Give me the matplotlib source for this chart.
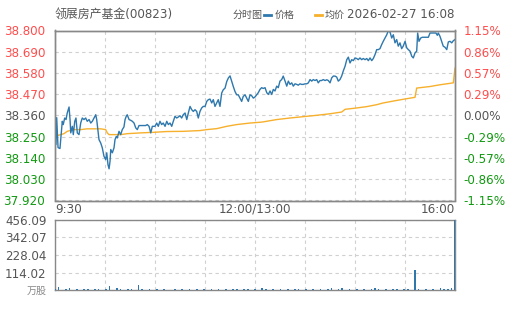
import matplotlib
matplotlib.use('Agg')
import matplotlib.pyplot as plt
from matplotlib.lines import Line2D
import numpy as np

plt.rcParams['font.family'] = ['DejaVu Sans', 'Noto Sans CJK SC']

# ---- data ----
name = '领展房产基金(00823)'
chart_kind = '分时图'
legend_price = '价格'
legend_avg = '均价'
stamp = '2026-02-27 16:08'
prev_close = 38.360
price_ticks = [37.920, 38.030, 38.140, 38.250, 38.360, 38.470, 38.580, 38.690, 38.800]
pct_labels = ['-1.15%', '-0.86%', '-0.57%', '-0.29%', '0.00%', '0.29%', '0.57%', '0.86%', '1.15%']
time_labels = ['9:30', '12:00/13:00', '16:00']
vol_ticks = [0, 114.02, 228.04, 342.07, 456.09]
vol_unit = '万股'

# minutes since open (0..330) and price
price_min = [0, 0.8, 1.4, 2.5, 4.1, 5.2, 6.0, 6.8, 8.0, 9.1, 10.1, 11.6, 12.4, 13.0, 14.3, 15.1,
             16.3, 17.3, 18.4, 19.8, 21.2, 22.5, 23.9, 25.3, 26.6, 28.1, 29.5, 30.8, 32.2, 33.6,
             34.4, 35.5, 36.3, 37.7, 39.0, 40.4, 41.8, 42.7, 43.7, 44.6, 45.4, 46.0, 47.3, 48.7,
             49.5, 50.6, 51.4, 52.8, 54.2, 55.5, 56.9, 57.8, 58.8, 59.6, 61.1, 62.5, 63.8, 65.2,
             66.6, 67.9, 69.3, 72.0, 74.8, 76.1, 77.6, 79.0, 80.3, 81.7, 82.5, 83.9, 85.2, 86.6,
             88.0, 89.3, 90.8, 92.2, 93.5, 94.9, 96.3, 97.6, 99.0, 100.4, 101.7, 103.1, 104.5,
             105.8, 107.3, 108.7, 110.0, 111.4, 112.8, 114.1, 115.5, 116.9, 118.2, 119.6, 121.0,
             122.3, 123.8, 125.2, 126.5, 127.9, 129.3, 130.6, 132.0, 133.4, 134.7, 136.1, 137.5,
             138.8, 140.3, 141.7, 143.0, 144.4, 145.8, 147.1, 148.5, 149.9, 151.2, 152.6, 154.0,
             155.3, 156.8, 158.2, 159.5, 160.9, 162.3, 163.6, 165.0, 166.4, 167.7, 169.1, 170.5,
             171.8, 173.3, 174.7, 176.0, 177.4, 178.8, 180.1, 181.5, 182.9, 184.2, 185.6, 187.0,
             188.3, 189.8, 191.2, 192.5, 193.9, 195.3, 196.6, 198.0, 199.4, 200.7, 202.1, 203.5,
             204.8, 206.3, 207.7, 209.0, 210.4, 211.8, 213.1, 214.5, 215.9, 217.2, 218.6, 220.0,
             221.3, 222.8, 224.2, 225.5, 226.9, 228.3, 229.6, 231.0, 232.4, 233.7, 235.1, 236.5,
             237.8, 239.3, 240.7, 242.0, 243.4, 244.8, 246.1, 247.5, 248.9, 250.2, 251.6, 253.0,
             254.3, 255.8, 257.2, 258.5, 259.9, 261.3, 262.6, 264.0, 265.4, 266.7, 268.1, 269.5,
             270.8, 272.3, 273.7, 275.0, 276.4, 277.8, 279.1, 280.5, 281.9, 283.2, 284.6, 286.0,
             287.3, 288.8, 290.2, 291.5, 292.9, 294.3, 295.6, 297.0, 298.4, 299.2, 300.3, 301.7,
             303.0, 305.3, 308.0, 309.4, 312.1, 314.3, 315.4, 316.2, 317.6, 319.0, 320.3, 321.8,
             323.2, 324.5, 325.9, 327.3, 328.6, 330.0]
price = [38.349, 38.210, 38.349, 38.194, 38.189, 38.270, 38.330, 38.313, 38.347, 38.339, 38.373,
         38.404, 38.339, 38.270, 38.304, 38.261, 38.330, 38.347, 38.270, 38.261, 38.321, 38.347,
         38.339, 38.347, 38.330, 38.339, 38.321, 38.330, 38.347, 38.364, 38.339, 38.278, 38.235,
         38.218, 38.193, 38.149, 38.132, 38.167, 38.106, 38.084, 38.123, 38.184, 38.167, 38.193,
         38.235, 38.252, 38.244, 38.278, 38.261, 38.287, 38.301, 38.339, 38.356, 38.364, 38.339,
         38.335, 38.330, 38.321, 38.296, 38.287, 38.308, 38.308, 38.308, 38.313, 38.304, 38.270,
         38.304, 38.304, 38.304, 38.321, 38.304, 38.330, 38.313, 38.321, 38.304, 38.330, 38.313,
         38.321, 38.304, 38.330, 38.356, 38.347, 38.352, 38.359, 38.347, 38.364, 38.373, 38.339,
         38.373, 38.407, 38.390, 38.381, 38.390, 38.381, 38.347, 38.381, 38.399, 38.407, 38.407,
         38.433, 38.442, 38.445, 38.425, 38.442, 38.407, 38.425, 38.442, 38.407, 38.476, 38.493,
         38.502, 38.536, 38.554, 38.565, 38.536, 38.510, 38.484, 38.467, 38.467, 38.450, 38.433,
         38.459, 38.467, 38.450, 38.433, 38.467, 38.462, 38.450, 38.456, 38.467, 38.478, 38.495,
         38.504, 38.500, 38.504, 38.478, 38.469, 38.487, 38.469, 38.495, 38.487, 38.512, 38.504,
         38.538, 38.546, 38.564, 38.538, 38.512, 38.538, 38.521, 38.529, 38.512, 38.524, 38.521,
         38.517, 38.524, 38.521, 38.521, 38.524, 38.524, 38.529, 38.546, 38.538, 38.546, 38.541,
         38.546, 38.529, 38.541, 38.541, 38.546, 38.541, 38.545, 38.541, 38.529, 38.555, 38.564,
         38.564, 38.559, 38.538, 38.546, 38.564, 38.590, 38.615, 38.649, 38.662, 38.632, 38.649,
         38.644, 38.658, 38.655, 38.649, 38.658, 38.649, 38.655, 38.649, 38.655, 38.644, 38.658,
         38.644, 38.655, 38.675, 38.701, 38.701, 38.706, 38.727, 38.744, 38.761, 38.778, 38.799,
         38.792, 38.761, 38.778, 38.736, 38.753, 38.719, 38.736, 38.706, 38.719, 38.744, 38.710,
         38.701, 38.693, 38.667, 38.658, 38.684, 38.693, 38.787, 38.744, 38.761, 38.765, 38.765,
         38.765, 38.787, 38.787, 38.787, 38.775, 38.787, 38.770, 38.744, 38.719, 38.713, 38.701,
         38.741, 38.744, 38.736, 38.747, 38.753]

avg_min = [0.6, 1.9, 4.7, 7.4, 10.1, 13.0, 15.7, 21.2, 26.6, 37.7, 41.8, 43.1, 44.6, 48.7, 54.2,
           59.6, 65.2, 70.7, 81.7, 92.2, 105.8, 119.6, 125.2, 133.4, 141.7, 149.9, 160.9, 169.1,
           171.8, 182.9, 193.9, 204.8, 215.9, 226.9, 236.5, 239.3, 248.9, 257.2, 265.4, 270.8,
           281.9, 290.2, 297.0, 298.4, 309.4, 317.6, 328.6, 330.0]
avg_price = [38.270, 38.256, 38.261, 38.266, 38.278, 38.283, 38.287, 38.287, 38.291, 38.291,
             38.287, 38.270, 38.261, 38.261, 38.261, 38.266, 38.268, 38.270, 38.273, 38.277,
             38.278, 38.282, 38.287, 38.292, 38.304, 38.313, 38.321, 38.325, 38.327, 38.339,
             38.347, 38.354, 38.361, 38.369, 38.378, 38.392, 38.399, 38.406, 38.416, 38.425,
             38.438, 38.447, 38.454, 38.502, 38.510, 38.519, 38.529, 38.605]

# volume in 3-minute buckets (0, 3, ..., 330)
volume = [4, 22, 3, 4, 10, 3, 4, 3, 4, 8, 3, 8, 4, 3, 4, 26, 3, 12, 4, 3,
          8, 4, 3, 33, 4, 3, 4, 3, 4, 3, 4, 3, 3, 4, 3, 4, 3, 4, 3, 4,
          3, 4, 3, 4, 3, 4, 3, 4, 3, 4, 8, 3, 4, 8, 3, 4, 3, 12, 4, 3,
          4, 3, 4, 3, 4, 3, 8, 4, 3, 4, 3, 4, 3, 4, 3, 4, 12, 3, 4, 12,
          3, 4, 3, 4, 3, 4, 3, 4, 10, 8, 3, 4, 3, 8, 4, 3, 8, 4, 3, 128,
          4, 3, 4, 3, 4, 3, 14, 4, 8, 16, 456.09]

# ---- figure ----
W, H = 505, 310
fig = plt.figure(figsize=(W / 100, H / 100), dpi=100)

red, green, grey = '#ff4d4d', '#119911', '#555555'
blue, orange = '#2e78ad', '#f7b02c'
fs = 8.6
fs_cjk = 7.2


def box(x0, y0, x1, y1):
    return [x0 / W, 1 - y1 / H, (x1 - x0) / W, (y1 - y0) / H]


def style_frame(ax):
    for s in ax.spines.values():
        s.set_color('#888888')
        s.set_linewidth(1.0)


def tick_colour(v):
    if v > prev_close + 1e-9:
        return red
    if v < prev_close - 1e-9:
        return green
    return grey


# main price panel
ax = fig.add_axes(box(55, 30.5, 455, 200.5))
ax.plot(price_min, price, color=blue, lw=1.0, zorder=3)
ax.plot(avg_min, avg_price, color=orange, lw=1.0, zorder=2)
ax.set_xlim(0, 330)
ax.set_ylim(price_ticks[0], price_ticks[-1])
ax.set_yticks(price_ticks)
ax.set_yticklabels([f'{v:.3f}' for v in price_ticks])
xt = np.linspace(0, 330, 9)
ax.set_xticks(xt)
ax.set_xticklabels([time_labels[0], '', '', '', time_labels[1], '', '', '', time_labels[2]])
ax.grid(True, color='#d0d0d0', ls=(0, (3, 3)), lw=0.8)
ax.tick_params(length=0, labelsize=fs, pad=7)
ax.tick_params(axis='x', pad=1.5, colors=grey)
xl = ax.get_xticklabels()
xl[0].set_ha('left')
xl[-1].set_ha('right')
style_frame(ax)
for lab, v in zip(ax.get_yticklabels(), price_ticks):
    lab.set_color(tick_colour(v))

axr = ax.twinx()
axr.set_ylim(ax.get_ylim())
axr.set_yticks(price_ticks)
axr.set_yticklabels(pct_labels)
axr.tick_params(length=0, labelsize=fs, pad=6)
style_frame(axr)
for lab, v in zip(axr.get_yticklabels(), price_ticks):
    lab.set_color(tick_colour(v))

# volume panel
axv = fig.add_axes(box(55, 220, 455, 290))
vol_min = np.arange(len(volume)) * 3
axv.bar(vol_min, volume, width=1.3, color=blue, zorder=3)
axv.set_xlim(0, 330)
axv.set_ylim(0, vol_ticks[-1])
axv.set_yticks(vol_ticks)
axv.set_yticklabels([vol_unit] + [f'{v:.2f}' for v in vol_ticks[1:]])
axv.set_xticks(xt)
axv.set_xticklabels([])
axv.grid(True, color='#d0d0d0', ls=(0, (3, 3)), lw=0.8)
axv.tick_params(length=0, labelsize=fs, pad=6, colors=grey)
axv.get_yticklabels()[0].set_color('#888888')
axv.get_yticklabels()[0].set_fontsize(fs_cjk)
style_frame(axv)

# header
yh = 1 - 15 / H
fig.text(55 / W, yh, name, fontsize=fs, color=grey, va='center', ha='left')
fig.text(233 / W, yh, chart_kind, fontsize=fs_cjk, color=grey, va='center', ha='left')
fig.add_artist(Line2D([264 / W, 271 / W], [yh, yh], color=blue, lw=2))
fig.text(275 / W, yh, legend_price, fontsize=fs_cjk, color=grey, va='center', ha='left')
fig.add_artist(Line2D([315 / W, 322 / W], [yh, yh], color=orange, lw=2))
fig.text(325 / W, yh, legend_avg, fontsize=fs_cjk, color=grey, va='center', ha='left')
fig.text(347 / W, yh, stamp, fontsize=fs, color=grey, va='center', ha='left')

fig.savefig('out.png', dpi=100)
